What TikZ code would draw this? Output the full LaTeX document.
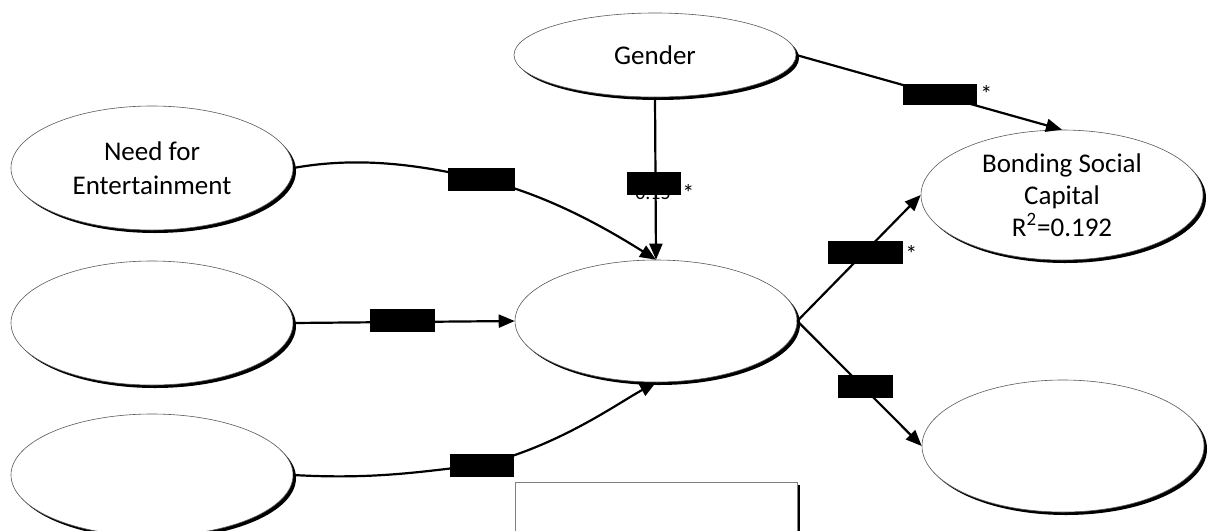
\documentclass[tikz,border=0pt]{standalone}
\usepackage{fontspec}
\setmainfont{Carlito}
\usetikzlibrary {positioning}
\usetikzlibrary {shapes.geometric}
\usetikzlibrary {shadows}
\usetikzlibrary {arrows.meta}
\tikzset{
ellA/.style={ellipse,draw=gray!70!black,line width=0.3pt,fill=white,minimum width=141pt,minimum height=61pt,inner sep=0pt,align=center,font=\fontsize{13.5}{17}\selectfont,drop shadow={shadow xshift=1.5pt,shadow yshift=-1.5pt,fill=black,opacity=1}}
}
\tikzset{
boxA/.style={rectangle,fill=black,inner sep=0pt,minimum height=11.5pt}
}
\tikzset{
boxB/.style={rectangle,draw=gray,line width=0.5pt,fill=white,minimum width=141pt,minimum height=30pt,drop shadow={shadow xshift=1.6pt,shadow yshift=-1.6pt,fill=black,opacity=1}}
}
\tikzset{
arrA/.style={line width=1.1pt,-{Triangle[length=8pt,width=6.5pt]}}
}

\begin{document}
\begin{tikzpicture}[x=0.5pt,y=-0.5pt,txtA/.style={inner sep=0pt,font=\fontsize{10}{12}\selectfont}]

\path[use as bounding box] (0,0) rectangle (1208,530);

\node[ellA,minimum height=42pt] (gender) at (655,55) {Gender};
\node[ellA,minimum height=62pt,font=\fontsize{13.5}{17}\selectfont] (nfe) at (152,168) {Need for\\Entertainment};
\node[ellA,minimum height=62pt] (left2) at (152,323) {};
\node[ellA] (left3) at (152,475) {};
\node[ellA] (mid) at (656,321) {};
\node[ellA,minimum height=65pt,font=\fontsize{13.5}{16}\selectfont] (bond) at (1062,195) {Bonding Social\\Capital\\R\textsuperscript{2}=0.192};
\node[ellA,minimum height=66pt] (br) at (1063,446) {};
\node[boxB] (note) at (656,512) {};

\coordinate (c1) at (481,179);
\coordinate (c3) at (482,465);

%------------------------------------------------------------------------------------------------------------%
\draw[arrA] (nfe.east) .. controls (360,156) and (420,165) .. (c1) .. controls (550,195) and (612,232) .. (mid.north);
\draw[arrA] (left2.east) -- (mid.west);
\draw[arrA] (left3.east) .. controls (380,480) and (430,470) .. (c3) .. controls (560,445) and (615,405) .. (mid.south);
\draw[arrA] (gender.south) -- (mid.north);
\draw[arrA] (gender.east) -- (bond.north);
\draw[arrA] (mid.east) -- (bond.west);
\draw[arrA] (mid.east) -- (br.west);

\node[txtA,anchor=base] (v4) at (653,199) {0.15};

\node[boxA,minimum width=33.5pt] (b1) at (c1) {};
\node[boxA,minimum width=32.5pt] (b2) at (402,320) {};
\node[boxA,minimum width=32pt] (b3) at (c3) {};
\node[boxA,minimum width=27pt] (b4) at (654,183) {};
\node[boxA,minimum width=37pt,minimum height=10.5pt] (b5) at (940,94) {};
\node[boxA,minimum width=37.5pt] (b6) at (865,252) {};
\node[boxA,minimum width=27.5pt] (b7) at (865,386) {};

\node[txtA,anchor=base west,font=\fontsize{12}{14}\selectfont] (s4) at (682,201) {*};
\node[txtA,anchor=base west,font=\fontsize{12}{14}\selectfont] (s5) at (980,102) {*};
\node[txtA,anchor=base west,font=\fontsize{12}{14}\selectfont] (s6) at (905,262) {*};

\end{tikzpicture}
\end{document}
